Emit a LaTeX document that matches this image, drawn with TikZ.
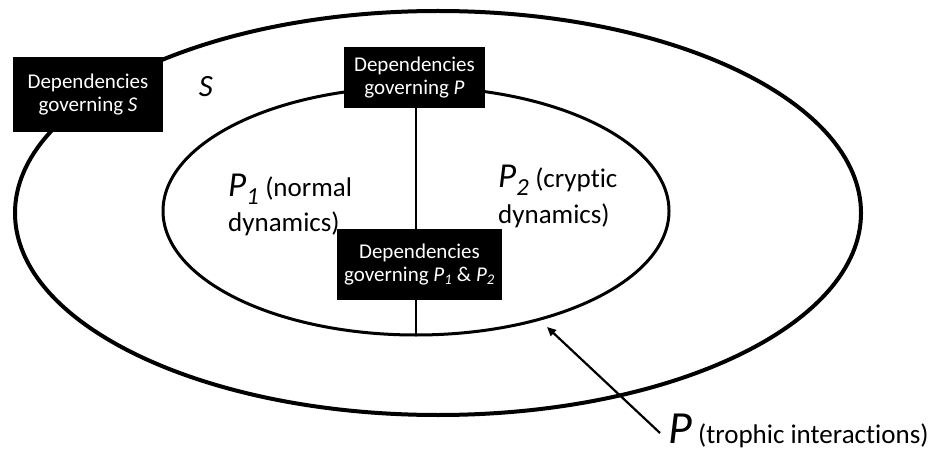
\documentclass[tikz,border=0pt]{standalone}
\usepackage{fontspec}
\setmainfont{Carlito}[Ligatures=NoCommon]
\usetikzlibrary{arrows.meta}
\tikzset{
  depbox/.style={fill=black, text=white, align=center, inner sep=0pt,
    font=\fontsize{21}{23}\selectfont},
  body/.style={anchor=base west, inner sep=0pt, font=\fontsize{27}{30}\selectfont},
}
\begin{document}
\begin{tikzpicture}[x=1pt,y=-1pt]
\path[use as bounding box, fill=white] (0,0) rectangle (933,454);
% ellipses
\draw[line width=4pt] (438,213) ellipse [x radius=423, y radius=202];
\draw[line width=3pt] (416,211) ellipse [x radius=253, y radius=124];
\coordinate (ib) at (416,335);
% boxes
\node[depbox, minimum width=150pt, minimum height=75pt] (bs) at (88,94.5)
  {Dependencies\\governing \textit{S}};
\node[depbox, minimum width=141pt, minimum height=61pt] (bp) at (414.5,77.5)
  {Dependencies\\governing \textit{P}};
\draw[line width=1.5pt] (bp.south -| ib) -- (ib);
\node[depbox, minimum width=165pt, minimum height=71pt] (bpp) at (419.5,264.5)
  {Dependencies\\governing \textit{P\textsubscript{1}} \& \textit{P\textsubscript{2}}};
% labels
\node[inner sep=0pt, font=\fontsize{31}{31}\selectfont\itshape] (s) at (206,87) {S};
\node[body] (p1a) at (228,197) {{\fontsize{35}{35}\selectfont\itshape P\textsubscript{1}} (normal};
\node[body] (p1b) at (228,231) {dynamics)};
\node[body] (p2a) at (498,188) {{\fontsize{35}{35}\selectfont\itshape P\textsubscript{2}} (cryptic};
\node[body] (p2b) at (498,223) {dynamics)};
\node[body] (pt) at (668,443) {{\fontsize{46}{46}\selectfont\itshape P} (trophic interactions)};
% arrow
\coordinate (astart) at (660,433);
\coordinate (atip) at (547,327);
\draw[line width=2.2pt, -{Triangle[length=9pt,width=8pt]}] (astart) -- (atip);
\end{tikzpicture}
\end{document}
